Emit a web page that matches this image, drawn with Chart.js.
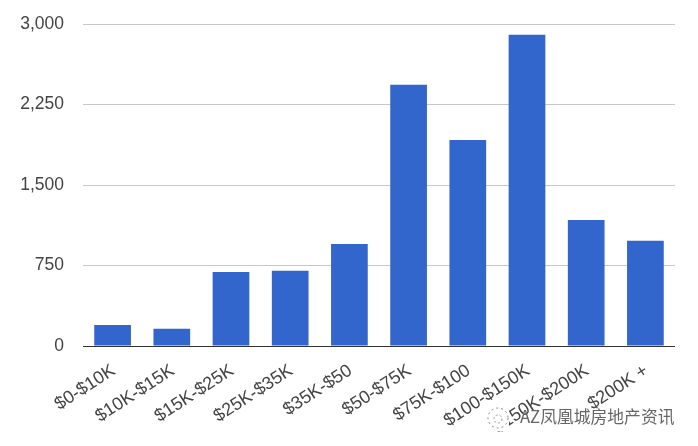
<!DOCTYPE html>
<html>
<head>
<meta charset="utf-8">
<style>
  html, body { margin: 0; padding: 0; background: #fff; }
  #wrap { position: relative; width: 698px; height: 446px; }
  #mark {
    position: absolute; left: 487px; top: 403px; height: 26px;
    font: 16.8px/26px "Noto Sans CJK SC", sans-serif; color: #666;
    white-space: nowrap;
  }
  #mark svg { vertical-align: middle; margin-right: 11px; background: #fff; }
</style>
<script src="https://cdn.jsdelivr.net/npm/chart.js@4"></script>
</head>
<body>
<div id="wrap">
  <canvas id="myChart" width="698" height="446"></canvas>
  <div id="mark"><svg width="22" height="26"><circle cx="11" cy="13" r="10" fill="none" stroke="#888" stroke-width="1" stroke-dasharray="2 3"/><circle cx="11" cy="14" r="4" fill="none" stroke="#999" stroke-width="1" stroke-dasharray="2 2"/></svg>AZ凤凰城房地产资讯</div>
</div>
<script>
const categories = ['$0-$10K', '$10K-$15K', '$15K-$25K', '$25K-$35K', '$35K-$50', '$50-$75K', '$75K-$100', '$100-$150K', '$150K-$200K', '$200K +'];
const values = [196, 160, 690, 700, 950, 2435, 1920, 2900, 1175, 980];
const yTicks = [0, 750, 1500, 2250, 3000];

const ctx = document.getElementById('myChart');

new Chart(ctx, {
  type: 'bar',
  data: {
    labels: categories,
    datasets: [{
      data: values,
      backgroundColor: '#3366cc',
      barPercentage: 1,
      categoryPercentage: 0.62
    }]
  },
  options: {
    responsive: false,
    animation: false,
    layout: { padding: { top: 24, right: 23, bottom: 0, left: 0 } },
    plugins: { legend: { display: false }, tooltip: { enabled: false } },
    scales: {
      y: {
        min: 0,
        max: 3000,
        afterFit: (scale) => { scale.width = 83; },
        afterBuildTicks: (scale) => { scale.ticks = yTicks.map((v) => ({ value: v })); },
        border: { display: false },
        grid: {
          color: (c) => (c.tick.value === 0 ? '#333333' : '#c8c8c8'),
          lineWidth: 1,
          tickColor: 'transparent',
          tickLength: 17
        },
        ticks: {
          color: '#444444',
          padding: 2,
          font: { family: '"Liberation Sans", Arial', size: 17.5 },
          callback: (v) => v.toLocaleString('en-US')
        }
      },
      x: {
        afterFit: (scale) => { scale.height = 100; },
        border: { display: false },
        grid: { display: false },
        ticks: {
          color: '#444444',
          autoSkip: false,
          minRotation: 33,
          maxRotation: 33,
          padding: 6,
          labelOffset: 1,
          font: { family: '"Liberation Sans", Arial', size: 18 }
        }
      }
    }
  }
});
</script>
</body>
</html>
